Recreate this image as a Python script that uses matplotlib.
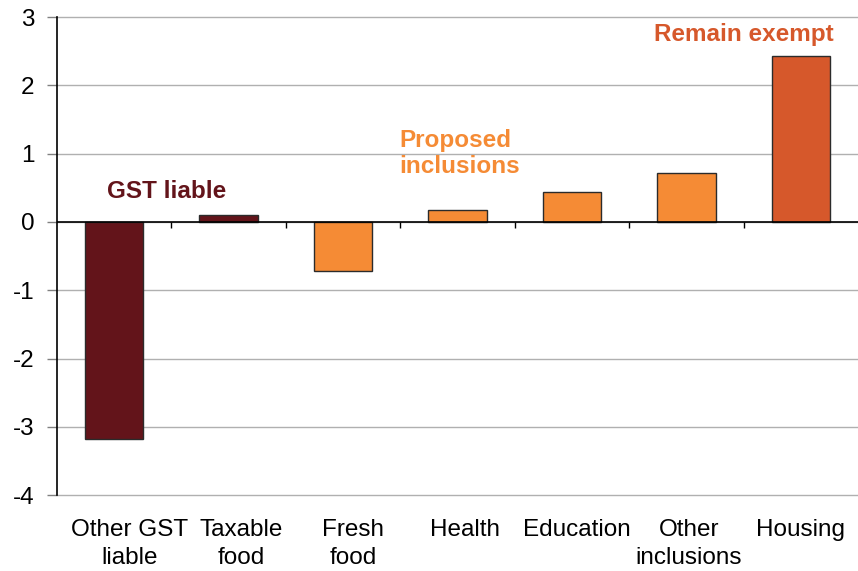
import matplotlib
matplotlib.use("Agg")
from matplotlib import pyplot as plt
from matplotlib.transforms import ScaledTranslation

plt.rcParams['font.family'] = ['Liberation Sans', 'DejaVu Sans']
plt.rcParams['axes.unicode_minus'] = False

# Дані
categories = ["Other GST\nliable", "Taxable\nfood", "Fresh\nfood", "Health",
              "Education", "Other\ninclusions", "Housing"]
values = [-3.18, 0.10, -0.72, 0.18, 0.44, 0.72, 2.43]
groups = ["liable", "liable", "proposed", "proposed", "proposed", "proposed", "exempt"]

colors = {"liable": "#63141A", "proposed": "#F58B35", "exempt": "#D6582B"}

fig = plt.figure(figsize=(8.58, 5.71), dpi=100)
ax = fig.add_axes([0.0664, 0.133, 0.9336, 0.837])

x = range(len(categories))
ax.bar(x, values, width=0.51, color=[colors[g] for g in groups],
       edgecolor="#2b2b2b", linewidth=1, zorder=3)

ax.set_xlim(-0.5, len(categories) - 0.5)
ax.set_ylim(-4, 3)
ax.set_yticks(range(-4, 4))
ax.grid(axis="y", color="#b0b0b0", linewidth=1, zorder=0)
for line in ax.get_ygridlines():
    line.set_clip_on(False)
ax.axhline(0, color="black", linewidth=1.2, zorder=4)
ax.vlines([i + 0.5 for i in range(len(categories) - 1)], -0.09, 0,
          color="black", linewidth=1, zorder=4)

for side in ["top", "right", "bottom"]:
    ax.spines[side].set_visible(False)
ax.spines["left"].set_linewidth(1.2)

ax.set_xticks(list(x))
ax.set_xticklabels(categories, fontsize=17.5, linespacing=1.35)
ax.tick_params(axis="x", length=0, pad=17)
ax.tick_params(axis="y", labelsize=17.5, length=7, width=1, color="#808080", pad=9)

# підписи в оригіналі трохи зсунуті вправо, зліва сильніше
n = len(categories)
for i, lbl in enumerate(ax.get_xticklabels()):
    shift = 15 * (n - 1 - i) / (n - 1) / 100
    lbl.set_transform(lbl.get_transform() + ScaledTranslation(shift, 0, fig.dpi_scale_trans))

ax.text(0.46, 0.44, "GST liable", color="#63141A", fontsize=17.5, fontweight="bold",
        ha="center", va="center")
ax.text(2.49, 1.0, "Proposed\ninclusions", color="#F58B35", fontsize=17.5,
        fontweight="bold", ha="left", va="center", linespacing=1.15)
ax.text(5.5, 2.75, "Remain exempt", color="#D6582B", fontsize=17.5,
        fontweight="bold", ha="center", va="center")

fig.savefig("out.png", dpi=100)
